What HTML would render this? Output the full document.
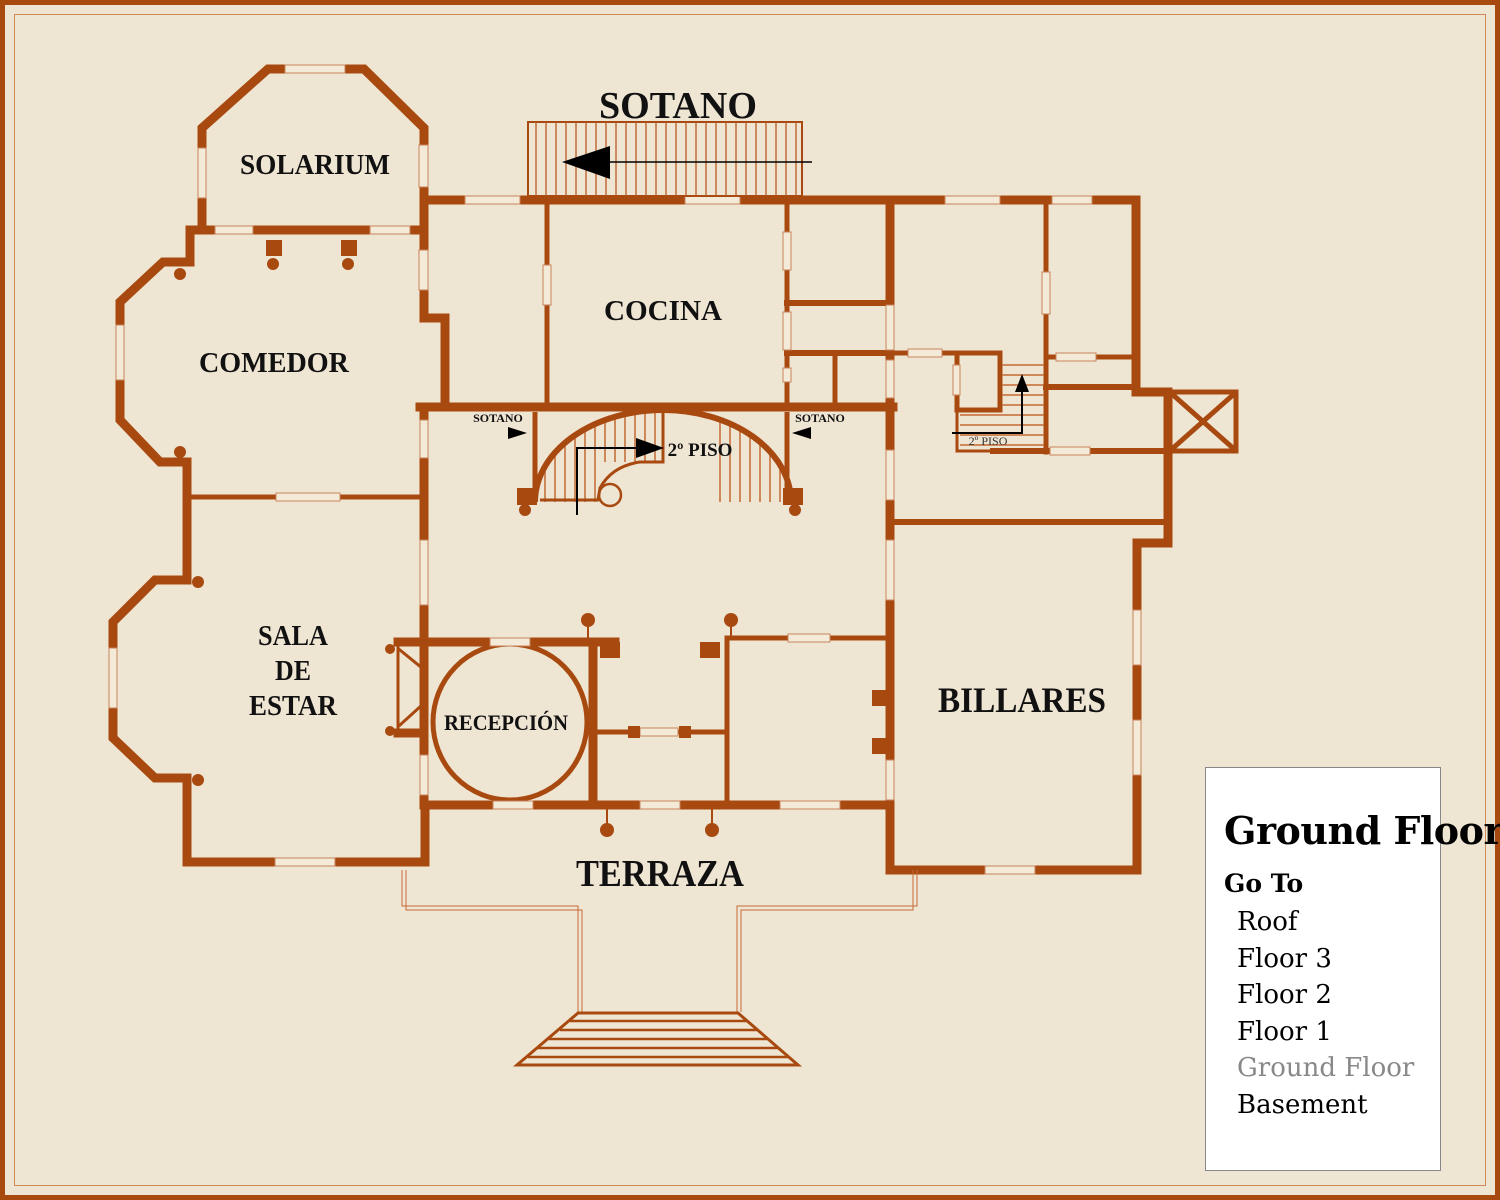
<!DOCTYPE html>
<html><head><meta charset="utf-8"><style>
html,body{margin:0;padding:0;}
body{width:1500px;height:1200px;overflow:hidden;background:#efe5d3;position:relative;font-family:"Liberation Serif",serif;}
#frame{position:absolute;left:0;top:0;width:1490px;height:1190px;border:5px solid #a84a10;}
#inner{position:absolute;left:14px;top:14px;width:1470px;height:1170px;border:1px solid #cf8a55;}
svg{position:absolute;left:0;top:0;}
.lbl{font-family:"Liberation Serif",serif;fill:#111;text-anchor:middle;font-weight:bold;}
#legend{position:absolute;left:1205px;top:767px;width:234px;height:402px;background:#fff;border:1px solid #888;overflow:visible;white-space:nowrap;font-family:"DejaVu Serif","Liberation Serif",serif;}
#legend .t{position:absolute;left:18px;top:40px;font-size:38px;font-weight:bold;color:#000;letter-spacing:-0.5px;}
#legend .g{position:absolute;left:18px;top:101px;font-size:25px;font-weight:bold;}
#legend .i{position:absolute;left:31px;font-size:26px;color:#000;}
</style></head><body>
<div id="frame"></div><div id="inner"></div>
<svg width="1500" height="1200" viewBox="0 0 1500 1200">
<defs>
<clipPath id="arch"><path d="M535,502 A128,92 0 0 1 791,502 Z"/></clipPath>
</defs>
<g fill="none" stroke="#a84a10" stroke-width="9" stroke-linejoin="miter" stroke-linecap="square">
<polyline points="202,230 202,128 268,69 364,69 424,128 424,230"/>
<line x1="202" y1="230" x2="424" y2="230"/>
<polyline points="202,230 190,230 190,262 163,262 120,302 120,420 160,462 187,462 187,580 155,580 113,622 113,738 155,778 187,778 187,862 425,862 425,805"/>
<polyline points="424,230 424,318 445,318 445,405"/>
<line x1="187" y1="497" x2="420" y2="497" stroke-width="5"/>
<polyline points="424,200 1136,200 1136,392 1168,392 1168,543 1137,543 1137,870 890,870 890,200"/>
<line x1="420" y1="407" x2="893" y2="407"/>
<line x1="547" y1="200" x2="547" y2="407" stroke-width="5"/>
<line x1="787" y1="200" x2="787" y2="407" stroke-width="5"/>
<line x1="787" y1="303" x2="890" y2="303" stroke-width="6"/>
<line x1="787" y1="353" x2="890" y2="353" stroke-width="6"/>
<line x1="835" y1="353" x2="835" y2="407" stroke-width="5"/>
<line x1="1046" y1="200" x2="1046" y2="452" stroke-width="5"/>
<line x1="1046" y1="357" x2="1136" y2="357" stroke-width="5"/>
<line x1="1046" y1="387" x2="1136" y2="387" stroke-width="6"/>
<line x1="993" y1="451" x2="1168" y2="451" stroke-width="6"/>
<line x1="893" y1="522" x2="1168" y2="522" stroke-width="6"/>
<line x1="893" y1="353" x2="1000" y2="353" stroke-width="5"/>
<polyline points="957,353 957,410 1000,410 1000,353" stroke-width="5"/>
<polyline points="957,410 957,451 993,451" stroke-width="3"/>
<line x1="424" y1="407" x2="424" y2="805"/>
<line x1="425" y1="805" x2="890" y2="805"/>
<line x1="398" y1="642" x2="615" y2="642"/>
<line x1="593" y1="642" x2="593" y2="805"/>
<line x1="398" y1="733" x2="424" y2="733"/>
<line x1="593" y1="732" x2="727" y2="732" stroke-width="5"/>
<line x1="727" y1="640" x2="727" y2="805" stroke-width="5"/>
<line x1="727" y1="638" x2="890" y2="638" stroke-width="5"/>
<ellipse cx="510" cy="722" rx="77" ry="78" stroke-width="5"/>
<line x1="398" y1="642" x2="398" y2="733" stroke-width="3"/>
<line x1="400" y1="650" x2="422" y2="668" stroke-width="3"/>
<line x1="400" y1="725" x2="422" y2="705" stroke-width="3"/>
<rect x="1170" y="392" width="66" height="59" stroke-width="5"/>
<line x1="1172" y1="394" x2="1234" y2="449" stroke-width="5"/>
<line x1="1234" y1="394" x2="1172" y2="449" stroke-width="5"/>
</g>
<g fill="#f3ead8" stroke="#c9825a" stroke-width="1">
<rect x="285" y="65" width="60" height="8"/>
<rect x="419" y="145" width="9" height="42"/>
<rect x="198" y="148" width="8" height="50"/>
<rect x="215" y="226" width="38" height="8"/>
<rect x="370" y="226" width="40" height="8"/>
<rect x="419" y="250" width="9" height="40"/>
<rect x="116" y="325" width="8" height="55"/>
<rect x="109" y="648" width="8" height="60"/>
<rect x="276" y="493" width="64" height="8"/>
<rect x="275" y="858" width="60" height="8"/>
<rect x="465" y="196" width="55" height="8"/>
<rect x="685" y="196" width="55" height="8"/>
<rect x="945" y="196" width="55" height="8"/>
<rect x="1052" y="196" width="40" height="8"/>
<rect x="543" y="265" width="8" height="40"/>
<rect x="783" y="232" width="8" height="38"/>
<rect x="783" y="312" width="8" height="38"/>
<rect x="783" y="368" width="8" height="14"/>
<rect x="886" y="305" width="8" height="45"/>
<rect x="886" y="360" width="8" height="38"/>
<rect x="908" y="349" width="34" height="8"/>
<rect x="953" y="365" width="7" height="30"/>
<rect x="1042" y="272" width="8" height="42"/>
<rect x="1056" y="353" width="40" height="8"/>
<rect x="1050" y="447" width="40" height="8"/>
<rect x="420" y="420" width="8" height="38"/>
<rect x="420" y="540" width="8" height="65"/>
<rect x="420" y="755" width="8" height="40"/>
<rect x="886" y="450" width="8" height="50"/>
<rect x="886" y="540" width="8" height="60"/>
<rect x="886" y="760" width="8" height="40"/>
<rect x="490" y="638" width="40" height="8"/>
<rect x="788" y="634" width="42" height="8"/>
<rect x="640" y="728" width="38" height="8"/>
<rect x="493" y="801" width="40" height="8"/>
<rect x="640" y="801" width="40" height="8"/>
<rect x="780" y="801" width="60" height="8"/>
<rect x="1133" y="610" width="8" height="55"/>
<rect x="1133" y="720" width="8" height="55"/>
<rect x="985" y="866" width="50" height="8"/>
</g>
<g fill="#a84a10">
<rect x="266" y="240" width="16" height="16"/><rect x="341" y="240" width="16" height="16"/>
<circle cx="273" cy="264" r="6"/><circle cx="348" cy="264" r="6"/>
<circle cx="180" cy="274" r="6"/><circle cx="180" cy="452" r="6"/>
<circle cx="198" cy="582" r="6"/><circle cx="198" cy="780" r="6"/>
<circle cx="525" cy="510" r="6"/><circle cx="795" cy="510" r="6"/>
<rect x="517" y="488" width="20" height="17"/><rect x="783" y="488" width="20" height="17"/>
<circle cx="588" cy="620" r="7"/><circle cx="731" cy="620" r="7"/>
<circle cx="607" cy="830" r="7"/><circle cx="712" cy="830" r="7"/>
<circle cx="390" cy="649" r="5"/><circle cx="390" cy="731" r="5"/>
<rect x="600" y="642" width="20" height="16"/><rect x="700" y="642" width="20" height="16"/>
<rect x="628" y="726" width="12" height="12"/><rect x="679" y="726" width="12" height="12"/>
<rect x="872" y="690" width="18" height="16"/><rect x="872" y="738" width="18" height="16"/>
</g>
<g stroke="#a84a10" stroke-width="2">
<line x1="588" y1="620" x2="588" y2="640"/><line x1="731" y1="620" x2="731" y2="640"/>
<line x1="607" y1="808" x2="607" y2="830"/><line x1="712" y1="808" x2="712" y2="830"/>
</g>
<g clip-path="url(#arch)" stroke="#c46a35" stroke-width="1.5">
<line x1="545" y1="405" x2="545" y2="502"/><line x1="555" y1="405" x2="555" y2="502"/><line x1="565" y1="405" x2="565" y2="502"/><line x1="575" y1="405" x2="575" y2="502"/><line x1="585" y1="405" x2="585" y2="502"/><line x1="595" y1="405" x2="595" y2="502"/><line x1="605" y1="405" x2="605" y2="462"/><line x1="615" y1="405" x2="615" y2="462"/><line x1="625" y1="405" x2="625" y2="462"/><line x1="635" y1="405" x2="635" y2="462"/><line x1="645" y1="405" x2="645" y2="462"/><line x1="655" y1="405" x2="655" y2="462"/>
<line x1="720" y1="405" x2="720" y2="502"/><line x1="730" y1="405" x2="730" y2="502"/><line x1="740" y1="405" x2="740" y2="502"/><line x1="750" y1="405" x2="750" y2="502"/><line x1="760" y1="405" x2="760" y2="502"/><line x1="770" y1="405" x2="770" y2="502"/><line x1="780" y1="405" x2="780" y2="502"/>
</g>
<g fill="none" stroke="#a84a10">
<path d="M535,502 A128,92 0 0 1 791,502" stroke-width="6"/>
<path d="M663,412 L663,462 L640,462 Q612,466 600,488 L598,500 L540,500" stroke-width="3"/>
<circle cx="610" cy="495" r="11" stroke-width="2.5"/>
<line x1="535" y1="412" x2="535" y2="500" stroke-width="5"/>
<line x1="787" y1="412" x2="787" y2="500" stroke-width="5"/>
</g>
<g stroke="#c46a35" stroke-width="1.5">
<line x1="1002" y1="365" x2="1044" y2="365"/><line x1="1002" y1="375" x2="1044" y2="375"/><line x1="1002" y1="385" x2="1044" y2="385"/><line x1="1002" y1="395" x2="1044" y2="395"/><line x1="1002" y1="405" x2="1044" y2="405"/><line x1="960" y1="415" x2="1044" y2="415"/><line x1="960" y1="425" x2="1044" y2="425"/><line x1="960" y1="435" x2="1044" y2="435"/><line x1="960" y1="445" x2="1044" y2="445"/>
</g>
<rect x="528" y="122" width="274" height="74" fill="none" stroke="#a84a10" stroke-width="2"/>
<g stroke="#b85a22" stroke-width="1.3">
<line x1="536" y1="122" x2="536" y2="196"/><line x1="546" y1="122" x2="546" y2="196"/><line x1="556" y1="122" x2="556" y2="196"/><line x1="566" y1="122" x2="566" y2="196"/><line x1="576" y1="122" x2="576" y2="196"/><line x1="586" y1="122" x2="586" y2="196"/><line x1="596" y1="122" x2="596" y2="196"/><line x1="606" y1="122" x2="606" y2="196"/><line x1="616" y1="122" x2="616" y2="196"/><line x1="626" y1="122" x2="626" y2="196"/><line x1="636" y1="122" x2="636" y2="196"/><line x1="646" y1="122" x2="646" y2="196"/><line x1="656" y1="122" x2="656" y2="196"/><line x1="666" y1="122" x2="666" y2="196"/><line x1="676" y1="122" x2="676" y2="196"/><line x1="686" y1="122" x2="686" y2="196"/><line x1="696" y1="122" x2="696" y2="196"/><line x1="706" y1="122" x2="706" y2="196"/><line x1="716" y1="122" x2="716" y2="196"/><line x1="726" y1="122" x2="726" y2="196"/><line x1="736" y1="122" x2="736" y2="196"/><line x1="746" y1="122" x2="746" y2="196"/><line x1="756" y1="122" x2="756" y2="196"/><line x1="766" y1="122" x2="766" y2="196"/><line x1="776" y1="122" x2="776" y2="196"/><line x1="786" y1="122" x2="786" y2="196"/><line x1="796" y1="122" x2="796" y2="196"/>
</g>
<line x1="600" y1="162" x2="812" y2="162" stroke="#000" stroke-width="1.5"/>
<polygon points="562,162 610,146 610,179" fill="#000"/>
<g stroke="#000" stroke-width="2" fill="none">
<polyline points="577,515 577,448 640,448"/>
<polyline points="952,433 1022,433 1022,385"/>
</g>
<polygon points="664,448 636,438 636,458" fill="#000"/>
<polygon points="1022,374 1015,392 1029,392" fill="#000"/>
<polygon points="527,433 508,427 508,439" fill="#000"/>
<polygon points="792,433 811,427 811,439" fill="#000"/>
<g fill="none" stroke="#c46a35" stroke-width="1">
<polyline points="402,870 402,906 578,906 578,1012"/>
<polyline points="406,870 406,910 582,910 582,1012"/>
<polyline points="917,870 917,906 737,906 737,1012"/>
<polyline points="913,870 913,910 741,910 741,1012"/>
</g>
<g stroke="#a84a10" stroke-width="2.5" fill="none">
<polygon points="578,1013 738,1013 798,1065 517,1065" stroke-width="3"/>
<line x1="570" y1="1021" x2="747" y2="1021"/><line x1="560" y1="1030" x2="757" y2="1030"/><line x1="549" y1="1039" x2="768" y2="1039"/><line x1="538" y1="1048" x2="779" y2="1048"/><line x1="528" y1="1057" x2="789" y2="1057"/>
</g>
<text class="lbl" x="678" y="118" font-size="38" textLength="158" lengthAdjust="spacingAndGlyphs">SOTANO</text>
<text class="lbl" x="315" y="174" font-size="29" textLength="150" lengthAdjust="spacingAndGlyphs">SOLARIUM</text>
<text class="lbl" x="274" y="372" font-size="29" textLength="150" lengthAdjust="spacingAndGlyphs">COMEDOR</text>
<text class="lbl" x="663" y="320" font-size="29" textLength="118" lengthAdjust="spacingAndGlyphs">COCINA</text>
<text class="lbl" x="293" y="645" font-size="29" textLength="70" lengthAdjust="spacingAndGlyphs">SALA</text>
<text class="lbl" x="293" y="680" font-size="29" textLength="36" lengthAdjust="spacingAndGlyphs">DE</text>
<text class="lbl" x="293" y="715" font-size="29" textLength="88" lengthAdjust="spacingAndGlyphs">ESTAR</text>
<text class="lbl" x="506" y="730" font-size="22" textLength="124" lengthAdjust="spacingAndGlyphs">RECEPCIÓN</text>
<text class="lbl" x="1022" y="712" font-size="36" textLength="168" lengthAdjust="spacingAndGlyphs">BILLARES</text>
<text class="lbl" x="660" y="886" font-size="38" textLength="168" lengthAdjust="spacingAndGlyphs">TERRAZA</text>
<text class="lbl" x="498" y="422" font-size="12">SOTANO</text>
<text class="lbl" x="820" y="422" font-size="12">SOTANO</text>
<text class="lbl" x="700" y="456" font-size="19">2º PISO</text>
<text x="988" y="445" font-size="12" fill="#333" text-anchor="middle" font-family="Liberation Serif, serif">2º PISO</text>
</svg>
<div id="legend">
<div class="t">Ground Floor</div>
<div class="g">Go To</div>
<div class="i" style="top:139px">Roof</div>
<div class="i" style="top:176px">Floor 3</div>
<div class="i" style="top:212px">Floor 2</div>
<div class="i" style="top:249px">Floor 1</div>
<div class="i" style="top:285px;color:#888">Ground Floor</div>
<div class="i" style="top:322px">Basement</div>
</div>
</body></html>
